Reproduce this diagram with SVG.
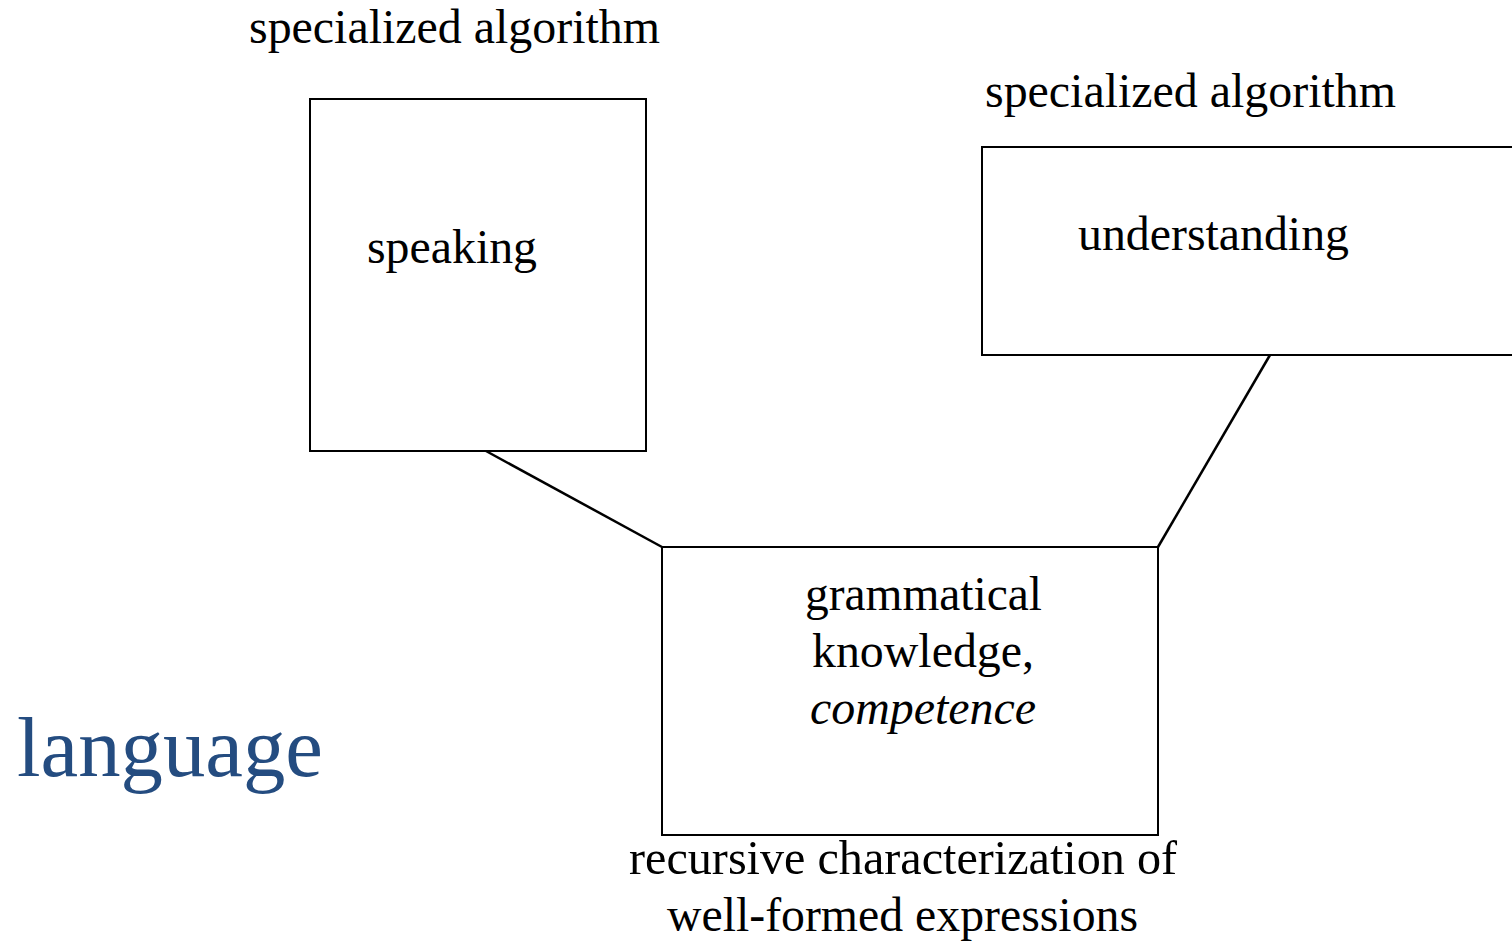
<svg xmlns="http://www.w3.org/2000/svg" width="1512" height="943" viewBox="0 0 1512 943">
<style>
.box{fill:#fff;stroke:#000;stroke-width:2}
.ln{stroke:#000;stroke-width:2.5;fill:none}
.t{font-family:"Liberation Serif","Times New Roman",serif;font-size:48px;fill:#000}
.c{text-anchor:middle}
</style>
<rect width="1512" height="943" fill="#fff"/>
<g id="connectors">
<line class="ln" x1="486" y1="451" x2="662" y2="547"/>
<line class="ln" x1="1270" y1="355" x2="1158" y2="547"/>
</g>
<g id="speaking">
<rect class="box" x="310" y="99" width="336" height="352"/>
<text class="t" x="249" y="43" textLength="411" lengthAdjust="spacingAndGlyphs">specialized algorithm</text>
<text class="t" x="367" y="263" textLength="170" lengthAdjust="spacingAndGlyphs">speaking</text>
</g>
<g id="understanding">
<rect class="box" x="982" y="147" width="540" height="208"/>
<text class="t" x="985" y="107" textLength="411" lengthAdjust="spacingAndGlyphs">specialized algorithm</text>
<text class="t" x="1078" y="250" textLength="271" lengthAdjust="spacingAndGlyphs">understanding</text>
</g>
<g id="grammar">
<rect class="box" x="662" y="547" width="496" height="288"/>
<text class="t" x="805" y="610" textLength="237" lengthAdjust="spacingAndGlyphs">grammatical</text>
<text class="t" x="812" y="667" textLength="222" lengthAdjust="spacingAndGlyphs">knowledge,</text>
<text class="t" x="810" y="724" font-style="italic" textLength="226" lengthAdjust="spacingAndGlyphs">competence</text>
<text class="t" x="629" y="874" textLength="548" lengthAdjust="spacingAndGlyphs">recursive characterization of</text>
<text class="t" x="667" y="931" textLength="471" lengthAdjust="spacingAndGlyphs">well-formed expressions</text>
</g>
<text x="17" y="776" font-family="Liberation Serif,Times New Roman,serif" font-size="84" fill="#244C80" textLength="306" lengthAdjust="spacingAndGlyphs">language</text>
</svg>
